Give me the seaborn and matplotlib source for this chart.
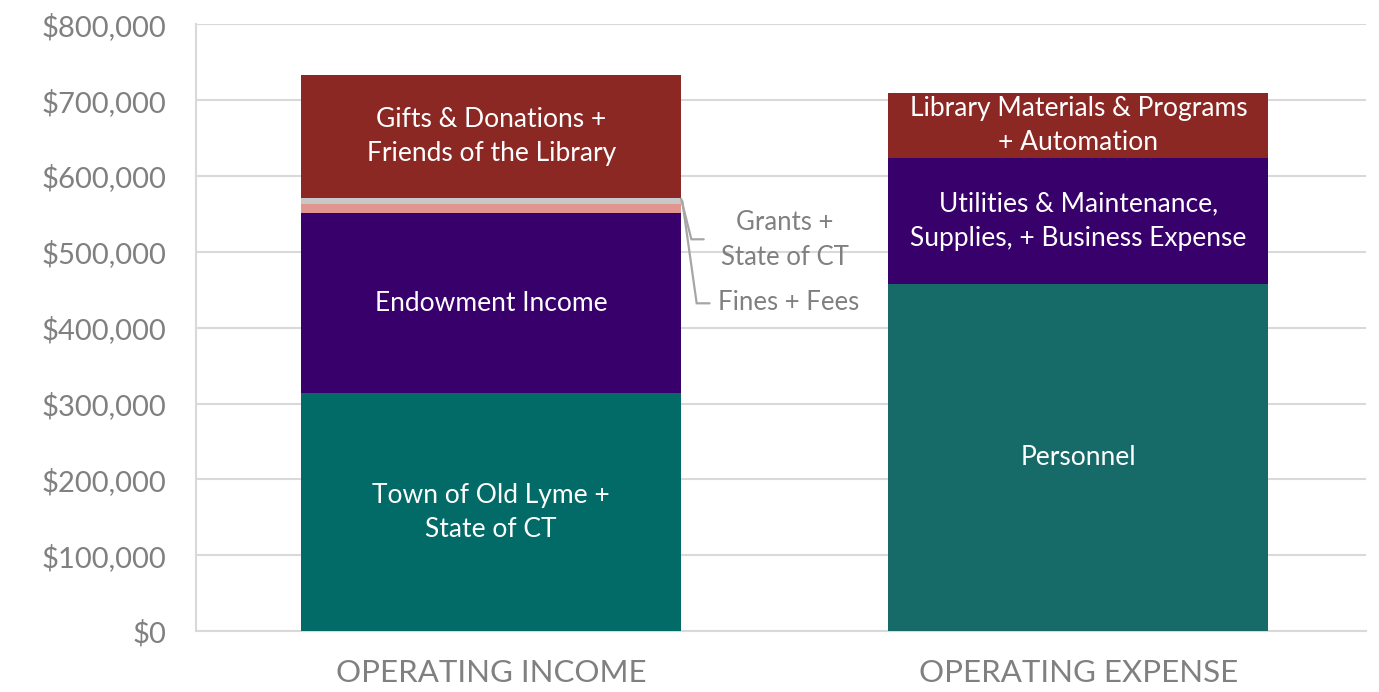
import matplotlib
matplotlib.use("Agg")
import matplotlib.pyplot as plt
import seaborn as sns
import pandas as pd

categories = ["OPERATING INCOME", "OPERATING EXPENSE"]

income_labels = ["Town of Old Lyme +\nState of CT", "Endowment Income", "Fines + Fees",
                 "Grants +\nState of CT", "Gifts & Donations +\nFriends of the Library"]
income_values = [313600, 237000, 12000, 8300, 161600]
income_colors = ["#026B67", "#38006B", "#E0958F", "#C8C8C8", "#8B2824"]

expense_labels = ["Personnel", "Utilities & Maintenance,\nSupplies, + Business Expense",
                  "Library Materials & Programs\n+ Automation"]
expense_values = [457200, 166000, 85600]
expense_colors = ["#166B69", "#38006B", "#8B2824"]

yticks = [0, 100000, 200000, 300000, 400000, 500000, 600000, 700000, 800000]

sns.set_theme(style="white")
plt.rcParams['font.family'] = ['Lato', 'DejaVu Sans']

fig = plt.figure(figsize=(13.79, 6.92), dpi=100)
ax = fig.add_axes([0.142, 0.088, 0.9906 - 0.142, 0.965 - 0.088])

bar_w = 0.647
segments = []
for cat, vals, cols, labs in [(categories[0], income_values, income_colors, income_labels),
                              (categories[1], expense_values, expense_colors, expense_labels)]:
    cum = 0
    for v, c, l in zip(vals, cols, labs):
        segments.append((cat, cum, cum + v, c, l))
        cum += v

# draw from tallest cumulative top down so lower segments overlay
for cat, lo, hi, col, lab in sorted(segments, key=lambda s: -s[2]):
    df = pd.DataFrame({"cat": [cat], "val": [hi]})
    sns.barplot(data=df, x="cat", y="val", order=categories, color=col,
                width=bar_w, saturation=1, ax=ax, zorder=3, linewidth=0, errorbar=None)

# inner labels
small = {"Fines + Fees", "Grants +\nState of CT"}
for cat, lo, hi, col, lab in segments:
    if lab in small:
        continue
    xi = categories.index(cat)
    ax.text(xi, (lo + hi) / 2, lab, ha="center", va="center", color="white",
            fontsize=19, linespacing=1.45, zorder=5)

# leader lines for small segments
inc_grants_top = sum(income_values[:4])
edge = bar_w / 2
start_y = inc_grants_top - 1000
ax.plot([edge, 0.341, 0.362], [start_y, 516500, 516500], color="#A6A6A6", lw=1.6, zorder=4,
        solid_joinstyle="miter", clip_on=False)
ax.plot([edge + 0.002, 0.35, 0.372], [start_y - 3000, 432100, 432100], color="#A6A6A6", lw=1.6,
        zorder=4, solid_joinstyle="miter", clip_on=False)
ax.text(0.50, 516000, "Grants +\nState of CT", ha="center", va="center", color="#808080",
        fontsize=18.5, linespacing=1.5, zorder=5)
ax.text(0.386, 433000, "Fines + Fees", ha="left", va="center", color="#808080",
        fontsize=18.5, zorder=5)

ax.set_xlim(-0.503, 1.49)
ax.set_ylim(0, 800000)
ax.set_yticks(yticks)
ax.set_yticklabels([f"${v:,.0f}" for v in yticks])
ax.yaxis.grid(True, color="#D9D9D9", lw=1.5, zorder=0)
ax.set_axisbelow(True)
ax.set_xlabel("")
ax.set_ylabel("")
for s in ["top", "right"]:
    ax.spines[s].set_visible(False)
for s in ["left", "bottom"]:
    ax.spines[s].set_color("#D9D9D9")
    ax.spines[s].set_linewidth(1.5)
ax.tick_params(axis="y", length=0, pad=21, labelsize=21, labelcolor="#808080")
ax.tick_params(axis="x", length=0, pad=20, labelsize=22.5, labelcolor="#808080")

fig.savefig("out.png", dpi=100)
